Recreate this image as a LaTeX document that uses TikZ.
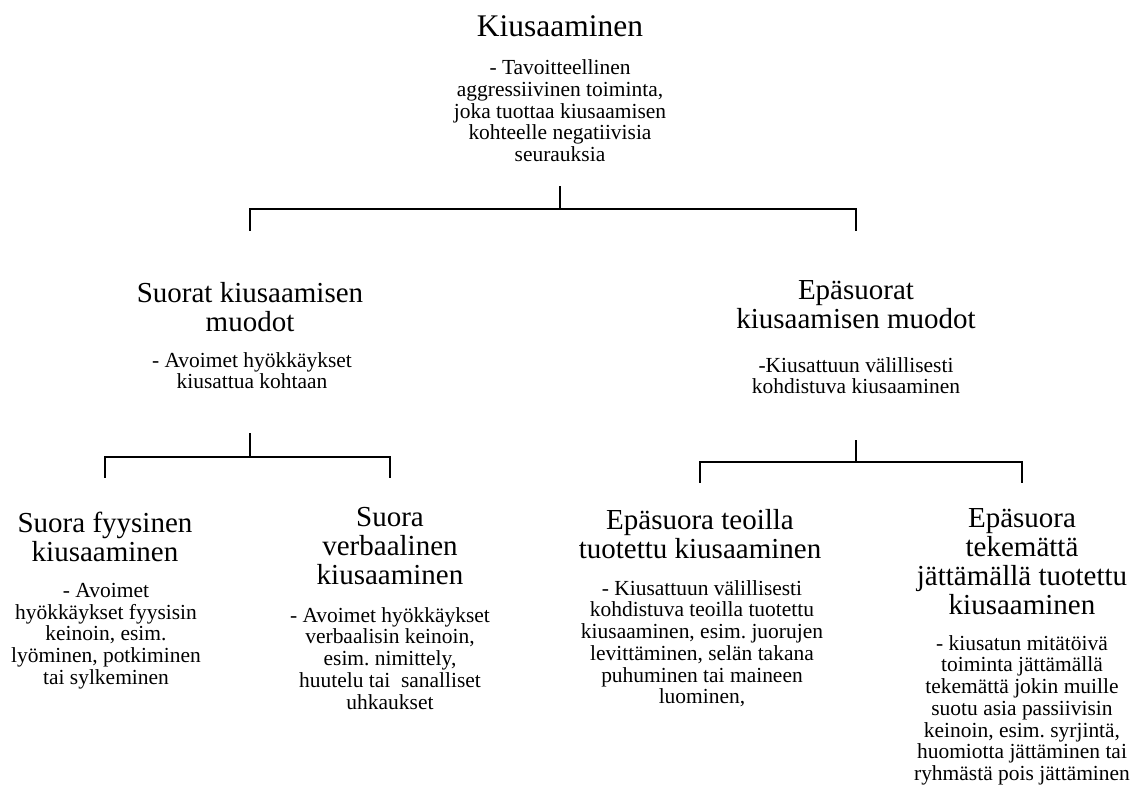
\documentclass[tikz,border=0pt]{standalone}
\usepackage{fontspec}
\setmainfont{Liberation Serif}
\usepackage{tikz}
\frenchspacing

\tikzset{
  title/.style={font=\fontsize{23.6}{25}\selectfont, inner sep=0pt, anchor=base},
  head/.style={align=center, font=\fontsize{21.75}{21.75}\selectfont, inner sep=0pt, anchor=north},
  desc/.style={align=center, font=\fontsize{16.1}{16.3}\selectfont, inner sep=0pt, anchor=north},
  fork/.style={line width=1.4pt, line join=miter},
}

\begin{document}
\begin{tikzpicture}[x=0.75pt, y=-0.75pt]
\useasboundingbox (0,0) rectangle (1140,789);
% top level
\node[title] (bully) at (560,36) {Kiusaaminen};
\node[desc] (bullydesc) at (560,59.5) {- Tavoitteellinen\\aggressiivinen toiminta,\\joka tuottaa kiusaamisen\\kohteelle negatiivisia\\seurauksia};
%
\node[head] (direct) at (250,282) {Suorat kiusaamisen\\muodot};
\node[desc] (directdesc) at (252,352) {- Avoimet hyökkäykset\\kiusattua kohtaan};
\node[head] (indirect) at (856,280) {Epäsuorat\\kiusaamisen muodot};
\node[desc] (indirectdesc) at (856,357) {-Kiusattuun välillisesti\\kohdistuva kiusaaminen};
%
\node[head] (physical) at (105,512) {Suora fyysinen\\kiusaaminen};
\node[desc] (physicaldesc) at (106,583) {- Avoimet\\hyökkäykset fyysisin\\keinoin, esim.\\lyöminen, potkiminen\\tai sylkeminen};
\node[head] (verbal) at (390,507) {Suora\\verbaalinen\\kiusaaminen};
\node[desc] (verbaldesc) at (390,607) {- Avoimet hyökkäykset\\verbaalisin keinoin,\\esim. nimittely,\\huutelu tai\ \ sanalliset\\uhkaukset};
\node[head] (acts) at (700,509) {Epäsuora teoilla\\tuotettu kiusaaminen};
\node[desc] (actsdesc) at (702,580) {- Kiusattuun välillisesti\\kohdistuva teoilla tuotettu\\kiusaaminen, esim. juorujen\\levittäminen, selän takana\\puhuminen tai maineen\\luominen,};
\node[head] (omission) at (1022,508) {Epäsuora\\tekemättä\\jättämällä tuotettu\\kiusaaminen};
\node[desc] (omissiondesc) at (1022,635) {- kiusatun mitätöivä\\toiminta jättämällä\\tekemättä jokin muille\\suotu asia passiivisin\\keinoin, esim. syrjintä,\\huomiotta jättäminen tai\\ryhmästä pois jättäminen};
%
\coordinate (topstem) at (560,186);
\coordinate (topbar) at (560,209);
\draw[fork] (topstem) -- (topbar);
\draw[fork, shorten >=38.25pt] (topbar) -| (direct);
\draw[fork, shorten >=36.75pt] (topbar) -| (indirect);
%
\coordinate (dirstem) at (250,433);
\coordinate (dirbar) at (250,457);
\draw[fork] (dirstem) -- (dirbar);
\draw[fork, shorten >=25.5pt] (dirbar) -| (physical);
\draw[fork, shorten >=21.75pt] (dirbar) -| (verbal);
%
\coordinate (indstem) at (856,440);
\coordinate (indbar) at (856,462);
\draw[fork] (indstem) -- (indbar);
\draw[fork, shorten >=19.5pt] (indbar) -| (acts);
\draw[fork, shorten >=18.75pt] (indbar) -| (omission);
\end{tikzpicture}
\end{document}
